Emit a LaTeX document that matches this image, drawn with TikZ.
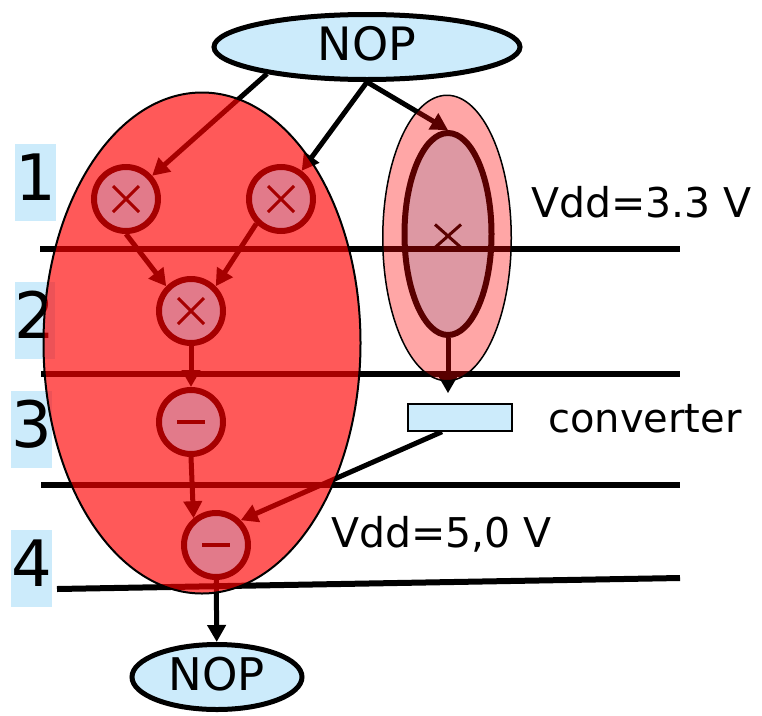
\documentclass[tikz,border=0pt]{standalone}
\usepackage{fontspec}
\setmainfont{DejaVu Sans}
\usetikzlibrary{shapes.geometric,arrows.meta}
\definecolor{paleblue}{RGB}{204,235,251}
\definecolor{opfill}{RGB}{226,122,138}
\definecolor{opline}{RGB}{166,0,0}
\pgfdeclarelayer{under}
\pgfdeclarelayer{tint}
\pgfsetlayers{under,tint,main}
\begin{document}
\begin{tikzpicture}[x=1pt,y=-1pt,
  nopnode/.style={ellipse, draw, line width=5pt, fill=paleblue, inner sep=0pt,
    text height=26pt, text depth=0pt},
  opnode/.style={circle, draw=opline, line width=6pt, fill=opfill, minimum size=64pt, inner sep=0pt},
  link/.style={line width=5pt, -{Triangle[length=17pt,width=18pt]}},
  level/.style={line width=6pt},
  sym/.style={draw=opline, line width=3pt},
  numbox/.style={fill=paleblue, inner sep=0pt, text height=56.5pt, text depth=20.5pt,
    font=\fontsize{64}{64}\selectfont},
  vddtext/.style={anchor=base west, inner sep=0pt, font=\fontsize{41}{41}\selectfont},
  group/.style={ellipse, draw, inner sep=0pt, fill=red}
]
\useasboundingbox (0,0) rectangle (762,715);

% operations inside the 5.0 V group
\node[opnode] (c1) at (126,199) {};
\node[opnode] (c2) at (281,199) {};
\node[opnode] (c3) at (191,311) {};
\node[opnode] (c4) at (191,422) {};
\node[opnode] (c5) at (216,545) {};
\foreach \n in {c1,c2,c3}
  \draw[sym] ([shift={(-13,-13)}]\n.center) -- ([shift={(13,13)}]\n.center)
             ([shift={(-13,13)}]\n.center) -- ([shift={(13,-13)}]\n.center);
\foreach \n in {c4,c5}
  \draw[sym, line width=4pt] ([xshift=-14pt]\n.center) -- ([xshift=14pt]\n.center);

% entry / exit nodes and the level converter
\node[nopnode, minimum width=306pt, minimum height=65pt, font=\fontsize{46}{46}\selectfont] (nop) at (367,47) {NOP};
\node[nopnode, minimum width=170pt, minimum height=65pt, font=\fontsize{45}{45}\selectfont] (nopb) at (217,677) {NOP};
\node[draw, line width=1.5pt, fill=paleblue, inner sep=0pt,
      minimum width=104pt, minimum height=27pt] (conv) at (460,417.5) {};

\begin{pgfonlayer}{under}
  % stage numbers
  \node[numbox, minimum width=41pt] (n1) at (35.5,182.5) {1};
  \node[numbox, minimum width=40pt] (n2) at (35,320) {2};
  \node[numbox, minimum width=33pt] (n3) at (31.5,429) {3};
  \node[numbox, minimum width=33pt] (n4) at (31.5,568.5) {4};

  % multicycle multiplication at 3.3 V
  \node[ellipse, draw, line width=6pt, fill=paleblue, inner sep=0pt,
        minimum width=87pt, minimum height=202pt] (ie) at (448,234) {};
  \draw[line width=3pt] ([shift={(-13,-9.5)}]ie.center) -- ([shift={(13,13.5)}]ie.center)
             ([shift={(-13,13.5)}]ie.center) -- ([shift={(13,-9.5)}]ie.center);

  % dependencies
  \draw[link] (nop.195) -- (c1);
  \draw[link] (nop.south) -- (c2);
  \draw[link] (nop.south) -- (ie.north);
  \draw[link] (c1.south) -- (c3.north west);
  \draw[link] (c2.south west) -- (c3.north east);
  \draw[link] (c3) -- (c4);
  \draw[link] (c4.south) -- (c5.130);
  \draw[link] ([xshift=-18pt]conv.south) -- (c5.north east);
  \draw[link, shorten >=10pt] (ie.south) -- (ie.south |- conv.north);
  \draw[link] (c5) -- (nopb);

  % control step boundaries
  \coordinate (l1a) at (40,249);  \coordinate (l1b) at (680,249);
  \coordinate (l2a) at (41,374);  \coordinate (l2b) at (680,374);
  \coordinate (l3a) at (41,485);  \coordinate (l3b) at (680,485);
  \coordinate (l4a) at (57,589);  \coordinate (l4b) at (680,578);
  \draw[level] (l1a) -- (l1b);
  \draw[level] (l2a) -- (l2b);
  \draw[level] (l3a) -- (l3b);
  \draw[level] (l4a) -- (l4b);
\end{pgfonlayer}

% voltage groups
\begin{pgfonlayer}{tint}
  \node[group, line width=2pt, fill opacity=0.65, minimum width=317pt, minimum height=501pt] (g5) at (202,343) {};
  \node[group, line width=1.5pt, fill opacity=0.35, minimum width=128.5pt, minimum height=285.5pt] (g33) at (447,238) {};
\end{pgfonlayer}

% annotations
\node[vddtext] (v33) at (531,217) {Vdd=3.3 V};
\node[vddtext] (v50) at (331,547) {Vdd=5,0 V};
\node[vddtext, font=\fontsize{40}{40}\selectfont] (cvt) at (548,432) {converter};
\end{tikzpicture}
\end{document}
